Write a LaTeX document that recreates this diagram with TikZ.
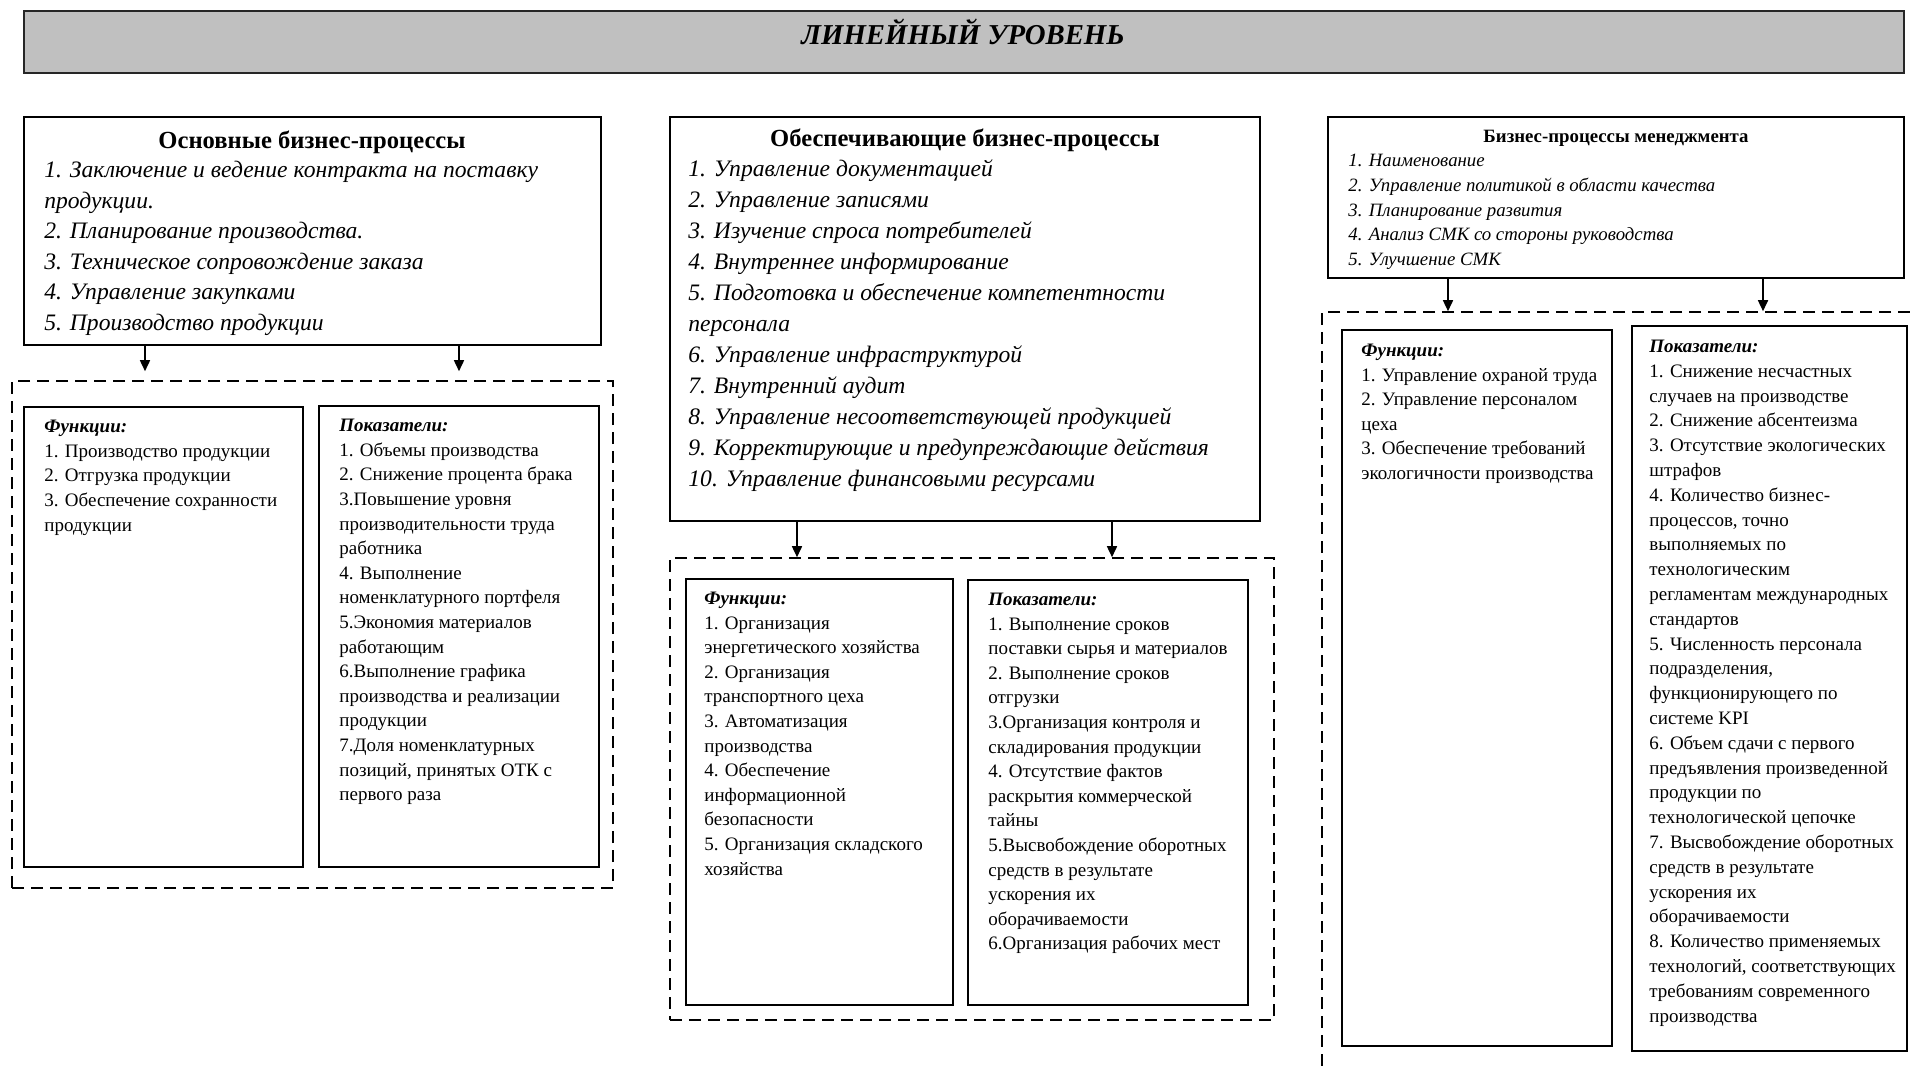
\documentclass[tikz,border=0pt]{standalone}
\usepackage{fontspec}
\setmainfont{Liberation Serif}
\usetikzlibrary{arrows.meta,fit}
\begin{document}
\begin{tikzpicture}[x=0.5pt,y=-0.5pt,
  boxst/.style={draw=black, line width=0.8pt, inner sep=0pt},
  dashbox/.style={draw=black, line width=0.8pt, inner sep=0pt, dash pattern=on 6pt off 3.5pt},
  titlest/.style={draw=black!85, fill={rgb,255:red,192;green,192;blue,192}, line width=1.3pt, inner sep=0pt},
  txt/.style={anchor=north west, align=left, inner sep=0pt, font=\fontsize{9.5}{12.3}\selectfont},
  itm/.style={anchor=north west, align=left, inner sep=0pt, font=\fontsize{11.8}{15.25}\selectfont\itshape},
  itmsmall/.style={anchor=north west, align=left, inner sep=0pt, font=\fontsize{9.4}{12.3}\selectfont\itshape},
  head/.style={anchor=base, inner sep=0pt, font=\fontsize{12.3}{15}\selectfont\bfseries},
  arr/.style={line width=0.8pt, -{Triangle[length=5.5pt,width=5pt]}}
]
\useasboundingbox (0,0) rectangle (1910,1067);
\clip (0,0) rectangle (1910,1067);

% title
\node[titlest, fit={(24,11) (1904,73)}] (title) {};
\node[anchor=base, inner sep=0pt, font=\fontsize{14.4}{16}\selectfont\bfseries\itshape] (titletext) at (963,44.5) {ЛИНЕЙНЫЙ УРОВЕНЬ};

% upper boxes
\node[boxst, fit={(24,117) (601,345)}] (b1) {};
\node[boxst, fit={(670,117) (1260,521)}] (b2) {};
\node[boxst, fit={(1328,117) (1904,278)}] (b3) {};

\node[head] (b1h) at (312,148.5) {Основные бизнес-процессы};
\node[itm] (b1t) at (44,156.2) {\strut 1. Заключение и ведение контракта на поставку\\
продукции.\\
2. Планирование производства.\\
3. Техническое сопровождение заказа\\
4. Управление закупками\\
5. Производство продукции};

\node[head] (b2h) at (965,146.5) {Обеспечивающие бизнес-процессы};
\node[itm, font=\fontsize{11.8}{15.5}\selectfont\itshape] (b2t) at (688,154.5) {\strut 1. Управление документацией\\
2. Управление записями\\
3. Изучение спроса потребителей\\
4. Внутреннее информирование\\
5. Подготовка и обеспечение компетентности\\
персонала\\
6. Управление инфраструктурой\\
7. Внутренний аудит\\
8. Управление несоответствующей продукцией\\
9. Корректирующие и предупреждающие действия\\
10. Управление финансовыми ресурсами};

\node[head, font=\fontsize{9.4}{12}\selectfont\bfseries] (b3h) at (1616,142.5) {Бизнес-процессы менеджмента};
\node[itmsmall] (b3t) at (1348,149.3) {\strut 1. Наименование\\
2. Управление политикой в области качества\\
3. Планирование развития\\
4. Анализ СМК со стороны руководства\\
5. Улучшение СМК};

% dashed groups
\node[dashbox, fit={(12,381) (613,888)}] (d1) {};
\node[dashbox, fit={(670,558) (1274,1020)}] (d2) {};
\node[dashbox, fit={(1322,312) (1930,1090)}] (d3) {};

% inner boxes
\node[boxst, fit={(24,407) (303,867)}] (f1) {};
\node[boxst, fit={(319,406) (599,867)}] (p1) {};
\node[boxst, fit={(686,579) (953,1005)}] (f2) {};
\node[boxst, fit={(968,580) (1248,1005)}] (p2) {};
\node[boxst, fit={(1342,330) (1612,1046)}] (f3) {};
\node[boxst, fit={(1632,326) (1907,1051)}] (p3) {};

% arrows
\coordinate (a1) at (145,0);
\coordinate (a2) at (459,0);
\coordinate (a3) at (797,0);
\coordinate (a4) at (1112,0);
\coordinate (a5) at (1448,0);
\coordinate (a6) at (1763,0);
\draw[arr, shorten >=4.5pt] (b1.south -| a1) -- (d1.north -| a1);
\draw[arr, shorten >=4.5pt] (b1.south -| a2) -- (d1.north -| a2);
\draw[arr] (b2.south -| a3) -- (d2.north -| a3);
\draw[arr] (b2.south -| a4) -- (d2.north -| a4);
\draw[arr] (b3.south -| a5) -- (d3.north -| a5);
\draw[arr] (b3.south -| a6) -- (d3.north -| a6);

% inner texts
\node[txt] (f1t) at (44,415) {\strut\textbf{\textit{Функции:}}\\
1. Производство продукции\\
2. Отгрузка продукции\\
3. Обеспечение сохранности\\
продукции};

\node[txt] (p1t) at (339,414) {\strut\textbf{\textit{Показатели:}}\\
1. Объемы производства\\
2. Снижение процента брака\\
3.Повышение уровня\\
производительности труда\\
работника\\
4. Выполнение\\
номенклатурного портфеля\\
5.Экономия материалов\\
работающим\\
6.Выполнение графика\\
производства и реализации\\
продукции\\
7.Доля номенклатурных\\
позиций, принятых ОТК с\\
первого раза};

\node[txt] (f2t) at (704,586.8) {\strut\textbf{\textit{Функции:}}\\
1. Организация\\
энергетического хозяйства\\
2. Организация\\
транспортного цеха\\
3. Автоматизация\\
производства\\
4. Обеспечение\\
информационной\\
безопасности\\
5. Организация складского\\
хозяйства};

\node[txt] (p2t) at (988,587.8) {\strut\textbf{\textit{Показатели:}}\\
1. Выполнение сроков\\
поставки сырья и материалов\\
2. Выполнение сроков\\
отгрузки\\
3.Организация контроля и\\
складирования продукции\\
4. Отсутствие фактов\\
раскрытия коммерческой\\
тайны\\
5.Высвобождение оборотных\\
средств в результате\\
ускорения их\\
оборачиваемости\\
6.Организация рабочих мест};

\node[txt] (f3t) at (1361,338.8) {\strut\textbf{\textit{Функции:}}\\
1. Управление охраной труда\\
2. Управление персоналом\\
цеха\\
3. Обеспечение требований\\
экологичности производства};

\node[txt, font=\fontsize{9.5}{12.4}\selectfont] (p3t) at (1649,334.8) {\strut\textbf{\textit{Показатели:}}\\
1. Снижение несчастных\\
случаев на производстве\\
2. Снижение абсентеизма\\
3. Отсутствие экологических\\
штрафов\\
4. Количество бизнес-\\
процессов, точно\\
выполняемых по\\
технологическим\\
регламентам международных\\
стандартов\\
5. Численность персонала\\
подразделения,\\
функционирующего по\\
системе KPI\\
6. Объем сдачи с первого\\
предъявления произведенной\\
продукции по\\
технологической цепочке\\
7. Высвобождение оборотных\\
средств в результате\\
ускорения их\\
оборачиваемости\\
8. Количество применяемых\\
технологий, соответствующих\\
требованиям современного\\
производства};
\end{tikzpicture}
\end{document}
